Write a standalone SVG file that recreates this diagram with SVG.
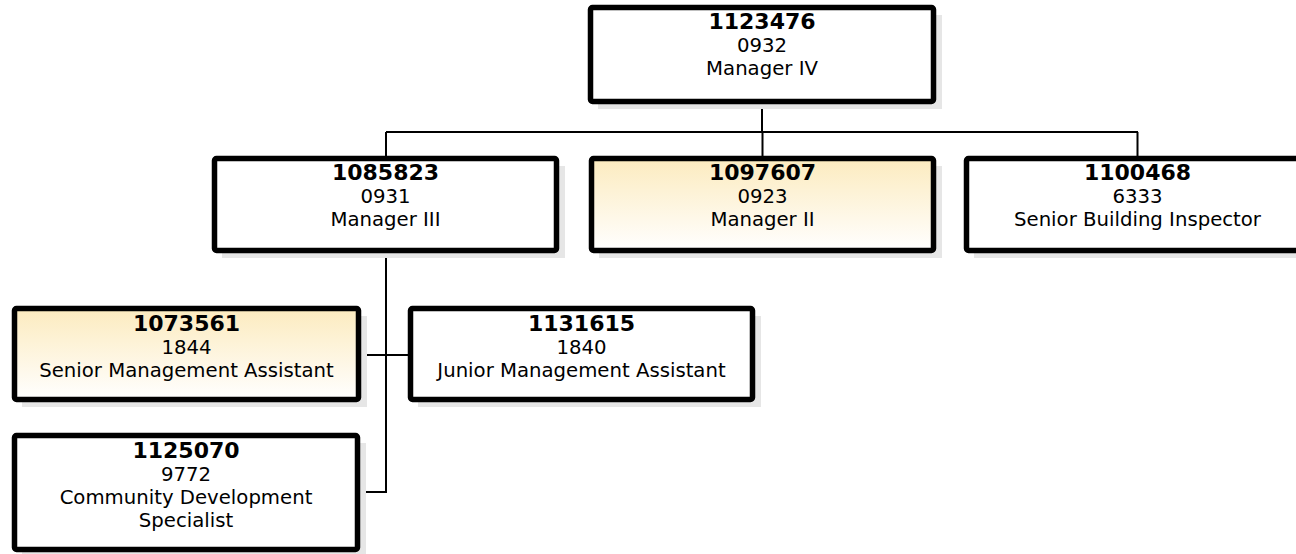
<svg xmlns="http://www.w3.org/2000/svg" width="1296" height="554" viewBox="0 0 1296 554">
<defs>
<linearGradient id="hl" x1="0" y1="0" x2="0" y2="1">
<stop offset="0" stop-color="#fcebbf"/>
<stop offset="1" stop-color="#ffffff"/>
</linearGradient>
</defs>
<style>
.box{fill:#ffffff;stroke:#000000;stroke-width:5.5}
.hl{fill:url(#hl)}
.sh{fill:#e6e6e6}
.id{font-family:"DejaVu Sans",Verdana,sans-serif;font-size:22px;font-weight:bold;text-anchor:middle;fill:#000}
.t{font-family:"DejaVu Sans",Verdana,sans-serif;font-size:19.7px;text-anchor:middle;fill:#000}
.c{fill:none;stroke:#000;stroke-width:2}
</style>
<rect width="1296" height="554" fill="#ffffff"/>
<g id="connectors">
<path class="c" d="M762 104V132M386 132H1138M386 132V156M762.5 132V156M1137.5 132V156"/>
<path class="c" d="M386 253V492H360M361 355H408"/>
</g>
<g id="n1123476">
<rect class="sh" x="598" y="15" width="344" height="94"/>
<rect class="box" x="590.5" y="7.5" width="343" height="94" rx="2"/>
<text class="id" x="762" y="28.5">1123476</text>
<text class="t" x="762" y="51.5">0932</text>
<text class="t" x="762" y="74.5">Manager IV</text>
</g>
<g id="n1085823">
<rect class="sh" x="222" y="166" width="343" height="92"/>
<rect class="box" x="214.5" y="158.5" width="342" height="92" rx="2"/>
<text class="id" x="385.5" y="180">1085823</text>
<text class="t" x="385.5" y="203">0931</text>
<text class="t" x="385.5" y="226">Manager III</text>
</g>
<g id="n1097607">
<rect class="sh" x="599" y="166" width="343" height="92"/>
<rect class="box hl" x="591.5" y="158.5" width="342" height="92" rx="2"/>
<text class="id" x="762.5" y="180">1097607</text>
<text class="t" x="762.5" y="203">0923</text>
<text class="t" x="762.5" y="226">Manager II</text>
</g>
<g id="n1100468">
<rect class="sh" x="974" y="166" width="343" height="92"/>
<rect class="box" x="966.5" y="158.5" width="342" height="92" rx="2"/>
<text class="id" x="1137.5" y="180">1100468</text>
<text class="t" x="1137.5" y="203">6333</text>
<text class="t" x="1137.5" y="226">Senior Building Inspector</text>
</g>
<g id="n1073561">
<rect class="sh" x="22" y="316" width="345" height="91"/>
<rect class="box hl" x="14.5" y="308.5" width="344" height="91" rx="2"/>
<text class="id" x="186.5" y="331">1073561</text>
<text class="t" x="186.5" y="354">1844</text>
<text class="t" x="186.5" y="377">Senior Management Assistant</text>
</g>
<g id="n1131615">
<rect class="sh" x="418" y="316" width="343" height="91"/>
<rect class="box" x="410.5" y="308.5" width="342" height="91" rx="2"/>
<text class="id" x="581.5" y="331">1131615</text>
<text class="t" x="581.5" y="354">1840</text>
<text class="t" x="581.5" y="377">Junior Management Assistant</text>
</g>
<g id="n1125070">
<rect class="sh" x="22" y="443" width="344" height="114"/>
<rect class="box" x="14.5" y="435.5" width="343" height="114" rx="2"/>
<text class="id" x="186" y="458">1125070</text>
<text class="t" x="186" y="481">9772</text>
<text class="t" x="186" y="504">Community Development</text>
<text class="t" x="186" y="527">Specialist</text>
</g>
</svg>
